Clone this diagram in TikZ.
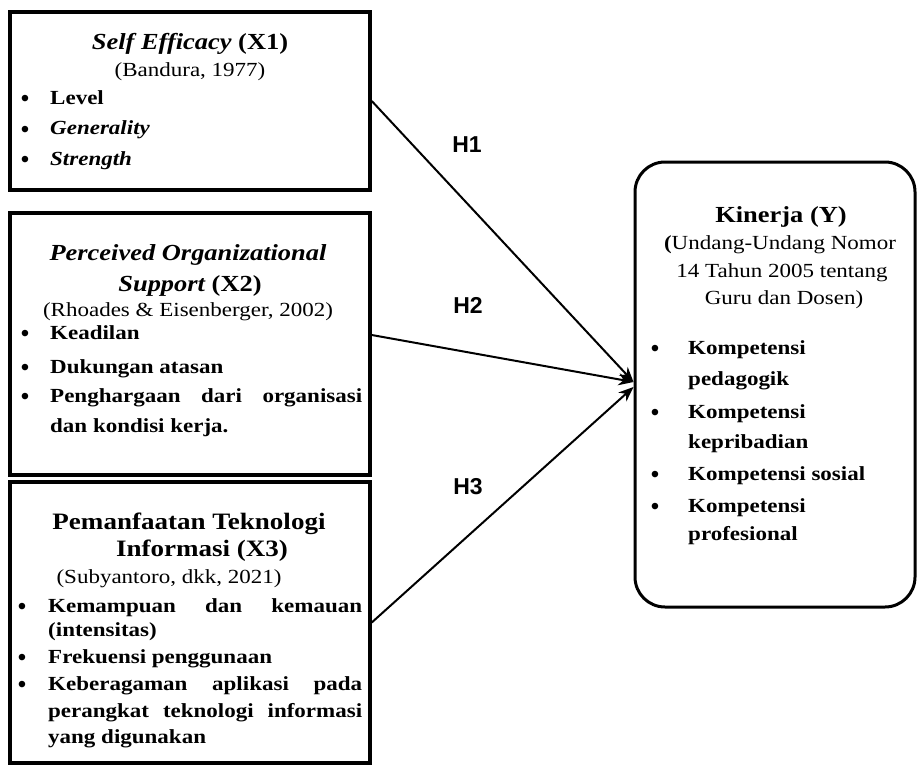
\documentclass[tikz,border=0pt]{standalone}
\usepackage{fontspec}
\setmainfont{Liberation Serif}[FakeStretch=1.15]
\newfontfamily\hsans{Liberation Sans}
\usetikzlibrary{arrows.meta}

\tikzset{
  xbox/.style={draw, line width=3.5pt, minimum width=360pt, inner sep=0pt},
  ybox/.style={draw, line width=3pt, rounded corners=30pt, minimum width=280pt, minimum height=445pt, inner sep=0pt},
  ttl/.style={anchor=base, inner sep=0pt, font=\fontsize{23}{27}\selectfont\bfseries},
  src/.style={anchor=base, inner sep=0pt, font=\fontsize{20}{24}\selectfont},
  itm/.style={anchor=base west, inner sep=0pt, font=\fontsize{20}{24}\selectfont\bfseries},
  dot/.style={anchor=base, inner sep=0pt, yshift=-2.5pt, font=\hsans\fontsize{24}{24}\selectfont},
  hyp/.style={inner sep=0pt, font=\hsans\bfseries\fontsize{23}{27}\selectfont},
  link/.style={line width=2pt, -{Stealth[length=15pt,width=12pt]}}
}

\begin{document}
\begin{tikzpicture}[x=1pt,y=-1pt]
\useasboundingbox (0,0) rectangle (917,765);

% ---- Self Efficacy (X1)
\node[xbox, minimum height=178pt] (x1) at (190,101) {};
\node[ttl] (x1t) at (190,50) {\itshape Self Efficacy\upshape{} (X1)};
\node[src] (x1s) at (190,77) {(Bandura, 1977)};
\node[dot] (x1d1) at (25,104) {•};
\node[itm] (x1i1) at (50,104) {Level};
\node[dot] (x1d2) at (25,135) {•};
\node[itm] (x1i2) at (50,135) {\itshape Generality};
\node[dot] (x1d3) at (25,165) {•};
\node[itm] (x1i3) at (50,165) {\itshape Strength};

% ---- Perceived Organizational Support (X2)
\node[xbox, minimum height=262pt] (x2) at (190,344) {};
\node[ttl] (x2t1) at (188,260) {\itshape Perceived Organizational};
\node[ttl] (x2t2) at (190,291) {\itshape Support\upshape{} (X2)};
\node[src] (x2s) at (188,316) {(Rhoades \& Eisenberger, 2002)};
\node[dot] (x2d1) at (25,339) {•};
\node[itm] (x2i1) at (50,339) {Keadilan};
\node[dot] (x2d2) at (25,373) {•};
\node[itm] (x2i2) at (50,373) {Dukungan atasan};
\node[dot] (x2d3) at (25,402) {•};
\node[itm] (x2i3) at (50,402) {\makebox[312pt][s]{Penghargaan dari organisasi}};
\node[itm] (x2i4) at (50,432) {dan kondisi kerja.};

% ---- Pemanfaatan Teknologi Informasi (X3)
\node[xbox, minimum height=281pt] (x3) at (190,622.5) {};
\node[ttl, font=\fontsize{23.5}{27}\selectfont\bfseries] (x3t1) at (189,529) {Pemanfaatan Teknologi};
\node[ttl, font=\fontsize{23.5}{27}\selectfont\bfseries] (x3t2) at (202,556) {Informasi (X3)};
\node[src] (x3s) at (169,583) {(Subyantoro, dkk, 2021)};
\node[dot] (x3d1) at (22,612) {•};
\node[itm] (x3i1) at (48,612) {\makebox[314pt][s]{Kemampuan dan kemauan}};
\node[itm] (x3i2) at (48,636) {(intensitas)};
\node[dot] (x3d2) at (22,663) {•};
\node[itm] (x3i3) at (48,663) {Frekuensi penggunaan};
\node[dot] (x3d3) at (22,690) {•};
\node[itm] (x3i4) at (48,690) {\makebox[314pt][s]{Keberagaman aplikasi pada}};
\node[itm] (x3i5) at (48,717) {\makebox[314pt][s]{perangkat teknologi informasi}};
\node[itm] (x3i6) at (48,743) {yang digunakan};

% ---- Kinerja (Y)
\node[ybox] (y) at (775,384.5) {};
\node[ttl] (yt) at (781,222) {Kinerja (Y)};
\node[src] (ys1) at (780,249) {{\bfseries (}Undang-Undang Nomor};
\node[src] (ys2) at (782,277) {14 Tahun 2005 tentang};
\node[src] (ys3) at (784,304) {Guru dan Dosen)};
\node[dot] (yd1) at (655,354) {•};
\node[itm] (yi1) at (688,354) {Kompetensi};
\node[itm] (yi2) at (688,385) {pedagogik};
\node[dot] (yd2) at (655,418) {•};
\node[itm] (yi3) at (688,418) {Kompetensi};
\node[itm] (yi4) at (688,448) {kepribadian};
\node[dot] (yd3) at (655,480) {•};
\node[itm] (yi5) at (688,480) {Kompetensi sosial};
\node[dot] (yd4) at (655,512) {•};
\node[itm] (yi6) at (688,512) {Kompetensi};
\node[itm] (yi7) at (688,540) {profesional};

% ---- hypotheses
\draw[link] (x1.east) -- ([yshift=2.5pt]y.west);
\draw[link] ([yshift=9pt]x2.east) -- ([yshift=2.5pt]y.west);
\draw[link] (x3.east) -- ([yshift=-2.5pt]y.west);

\node[hyp] (h1) at (467,145) {H1};
\node[hyp] (h2) at (468,305) {H2};
\node[hyp] (h3) at (468,487) {H3};
\end{tikzpicture}
\end{document}
